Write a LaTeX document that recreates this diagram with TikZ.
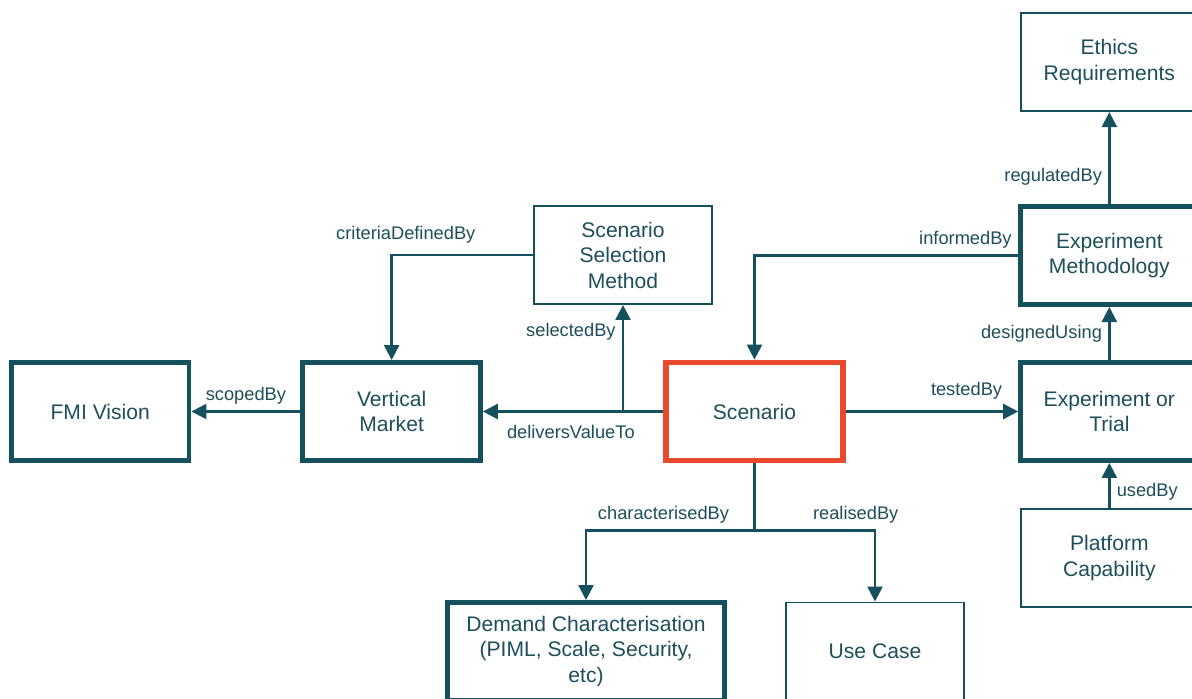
\documentclass[tikz,border=0pt]{standalone}
\usepackage{fontspec}
\setmainfont{Liberation Sans}
\usepackage{xcolor}
\usetikzlibrary{positioning, arrows.meta}
\definecolor{fmiteal}{HTML}{15505F}
\definecolor{fmitext}{HTML}{1D4E5C}
\definecolor{fmired}{HTML}{E84A2B}

\begin{document}
\begin{tikzpicture}[
    box/.style={draw=fmiteal, line width=1.1pt, minimum width=3.55cm, minimum height=1.96cm,
      align=center, text=fmitext, font=\fontsize{12}{14.5}\selectfont},
    heavybox/.style={box, line width=2.8pt},
    link/.style={color=fmiteal, line width=1.4pt, -{Triangle[length=0.3cm, width=0.3cm]}},
    lbl/.style={text=fmitext, font=\fontsize{10.4}{12}\selectfont, inner sep=3.5pt}
  ]
  \useasboundingbox (0,0) rectangle (23.84,-13.98);
  \clip (0,0) rectangle (23.84,-13.98);

  \node[heavybox, draw=fmired, line width=3.3pt] (SC) at (15.09,-8.23) {Scenario};
  \node[heavybox, left=3.6cm of SC] (VM) {Vertical\\Market};
  \node[heavybox, left=2.18cm of VM] (FMI) {FMI Vision};
  \node[box] (SSM) at (12.46,-5.1) {Scenario\\Selection\\Method};
  \node[heavybox, right=3.44cm of SC] (EOT) {Experiment or\\Trial};
  \node[heavybox, above=1.06cm of EOT] (EM) {Experiment\\Methodology};
  \node[box, above=1.84cm of EM] (ER) {Ethics\\Requirements};
  \node[box, below=0.9cm of EOT] (PC) {Platform\\Capability};
  \node[heavybox, minimum width=5.54cm] (DC) at (11.72,-13.03) {Demand Characterisation\\(PIML, Scale, Security,\\etc)};
  \node[box] (UC) at (17.5,-13.03) {Use Case};

  \coordinate (sel) at (SSM.south |- SC.west);
  \coordinate[below=1.34cm of SC] (split);

  \path[link] (VM) edge node[lbl, above] {scopedBy} (FMI)
        (SC) edge node[lbl, below, yshift=-0.12cm, xshift=-0.04cm] {deliversValueTo} (VM)
        (sel) edge node[lbl, left, pos=0.75] {selectedBy} (SSM)
        (SC) edge node[lbl, above, pos=0.7, yshift=0.1cm] {testedBy} (EOT)
        (EOT) edge node[lbl, left] {designedUsing} (EM)
        (EM) edge node[lbl, left, pos=0.3] {regulatedBy} (ER)
        (PC) edge node[lbl, right, pos=0.35] {usedBy} (EOT);

  \draw[link] (SSM) -| node[lbl, above, pos=0.45, yshift=0.08cm] {criteriaDefinedBy} (VM);
  \draw[link] (EM) -| node[lbl, above, pos=0.1] {informedBy} (SC);
  \draw[fmiteal, line width=1.4pt] (SC) -- (split);
  \draw[link] (split) -| node[lbl, above, pos=0.27] {characterisedBy} (DC);
  \draw[link] (split) -| node[lbl, above, pos=0.42] {realisedBy} (UC);
\end{tikzpicture}
\end{document}
